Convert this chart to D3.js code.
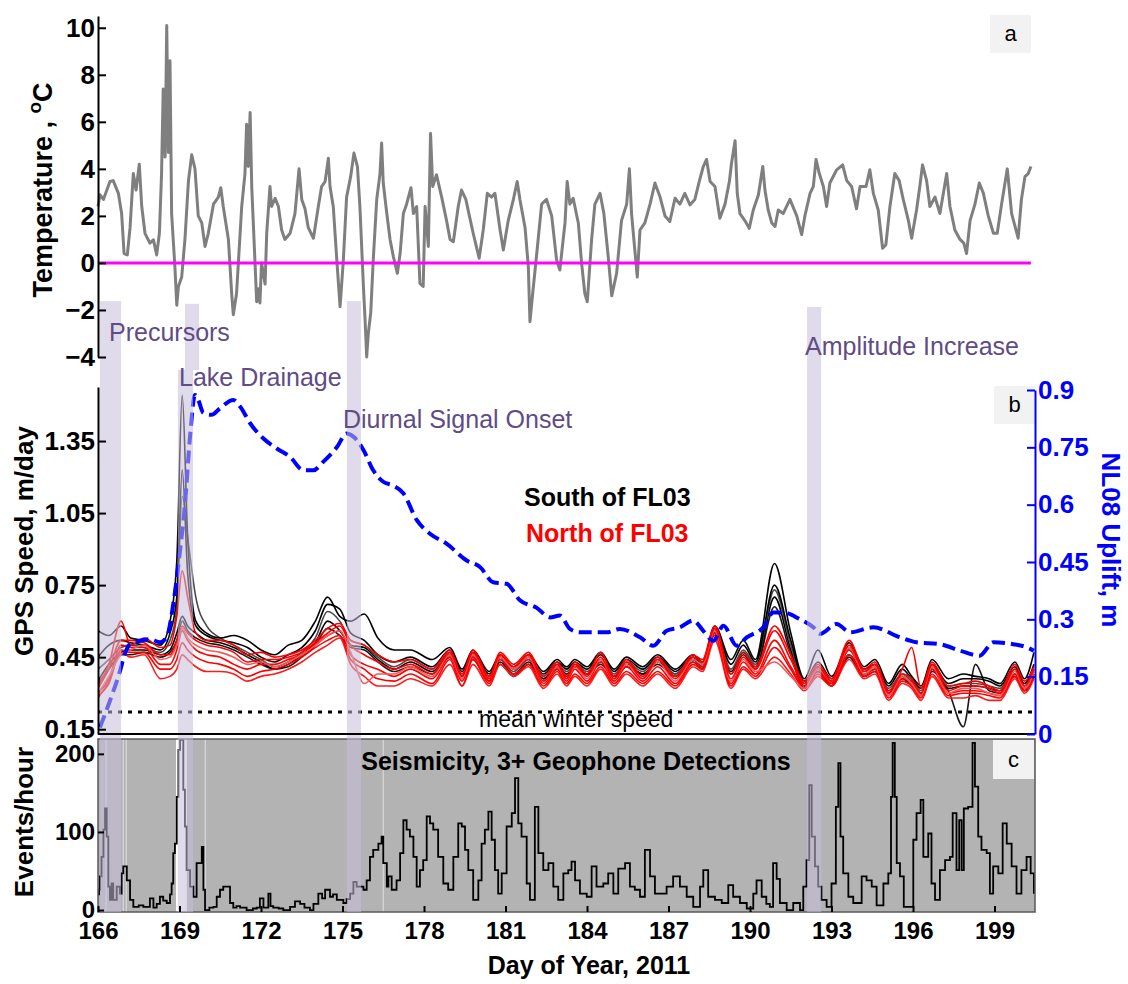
<!DOCTYPE html>
<html>
<head>
<meta charset="utf-8">
<script src="https://cdn.jsdelivr.net/npm/d3@7"></script>
<style>
  body { margin: 0; background: #fff; }
  text { font-family: "Liberation Sans", Arial, Helvetica, sans-serif; }
</style>
</head>
<body>
<svg id="chart" width="1128" height="984"></svg>
<script>
// ---- data ----
const TEMP_DAY = [166.00,166.07,166.20,166.44,166.56,166.75,166.87,166.96,167.08,167.18,167.30,167.40,167.52,167.61,167.73,167.91,168.04,168.16,168.26,168.34,168.40,168.47,168.53,168.59,168.65,168.71,168.83,168.90,168.96,169.08,169.20,169.33,169.45,169.57,169.69,169.82,169.94,170.06,170.25,170.43,170.52,170.61,170.80,170.92,170.98,171.10,171.29,171.41,171.47,171.53,171.60,171.66,171.78,171.84,171.90,171.96,172.02,172.15,172.21,172.33,172.39,172.52,172.64,172.76,172.88,173.07,173.25,173.40,173.50,173.62,173.74,173.93,174.11,174.23,174.36,174.48,174.54,174.66,174.79,174.91,175.03,175.15,175.30,175.42,175.55,175.64,175.77,175.83,175.89,175.95,176.04,176.13,176.26,176.38,176.44,176.50,176.63,176.75,176.87,177.02,177.12,177.24,177.36,177.52,177.61,177.73,177.85,177.97,178.04,178.16,178.24,178.32,178.46,178.65,178.83,178.96,179.08,179.26,179.38,179.54,179.67,179.81,180.03,180.18,180.33,180.49,180.61,180.80,180.92,181.10,181.29,181.43,181.53,181.72,181.84,181.90,182.00,182.15,182.33,182.51,182.70,182.88,183.00,183.19,183.27,183.37,183.49,183.68,183.80,183.92,184.01,184.17,184.29,184.48,184.62,184.78,184.91,185.09,185.27,185.46,185.56,185.64,185.76,185.85,185.95,186.13,186.32,186.50,186.69,186.87,187.05,187.24,187.42,187.60,187.79,187.97,188.13,188.28,188.40,188.53,188.71,188.89,189.08,189.24,189.32,189.45,189.53,189.63,189.81,189.97,190.12,190.31,190.47,190.55,190.67,190.80,190.92,191.04,191.22,191.47,191.72,191.90,192.02,192.21,192.33,192.43,192.55,192.70,192.82,192.94,193.19,193.41,193.56,193.74,193.92,194.05,194.27,194.41,194.54,194.72,194.88,195.00,195.15,195.33,195.49,195.64,195.83,195.95,196.13,196.25,196.35,196.50,196.62,196.81,196.99,197.24,197.36,197.54,197.73,197.87,197.97,198.10,198.28,198.44,198.59,198.77,198.96,199.10,199.26,199.47,199.63,199.87,199.99,200.12,200.24,200.34];
const TEMP_C = [2.4,2.9,2.7,3.46,3.5,2.96,2.1,0.4,0.34,1.5,3.8,3.1,4.2,2.4,1.26,0.84,0.98,0.34,1.26,3.8,7.4,4.5,10.1,4.7,8.6,2.1,-0.16,-1.8,-1.0,-0.6,1.0,3.5,4.6,4.0,2.0,1.7,0.7,1.26,2.5,2.8,3.2,2.4,1.0,-1.3,-2.2,-1.3,2.4,3.8,5.9,4.1,6.4,3.2,0.0,-1.65,-1.1,-1.7,0.0,-0.9,1.26,3.25,2.4,2.75,2.4,1.4,1.0,1.26,2.1,4.0,2.7,2.3,1.5,1.05,2.4,3.25,3.46,4.45,3.25,2.4,0.13,-1.86,0.1,2.8,3.67,4.67,4.1,2.4,-1.0,-2.4,-4.0,-3.0,-2.1,0.1,2.7,3.8,5.1,3.4,2.1,1.0,0.28,-0.44,0.4,2.1,2.5,3.2,2.1,2.4,-0.87,-1.0,2.4,0.7,5.5,3.25,3.75,2.8,1.8,1.0,0.9,2.4,3.1,2.7,2.0,1.26,0.2,1.4,2.96,2.8,2.96,1.4,0.55,1.8,2.7,3.46,2.7,1.5,-0.16,-2.5,-1.3,0.4,2.5,2.7,2.0,0.13,-0.3,1.7,3.46,2.5,2.75,1.7,0.0,-1.3,-1.65,1.0,2.5,2.96,2.1,0.28,-1.4,-0.44,1.8,2.5,4.0,2.1,0.55,-0.6,1.4,1.7,2.5,3.4,2.8,2.0,1.76,2.75,2.5,2.96,2.47,2.7,3.46,4.1,4.4,3.46,3.25,1.9,2.5,3.46,4.25,5.2,2.96,2.1,1.8,1.47,2.25,2.9,4.1,3.1,2.25,1.7,1.55,2.25,2.1,2.7,2.0,1.2,2.0,2.96,3.25,4.4,3.8,3.25,2.4,3.4,3.96,4.17,3.5,3.25,2.3,3.25,3.25,3.96,2.96,2.25,0.62,0.77,2.4,3.8,3.5,2.7,1.8,1.05,2.25,3.25,4.17,3.5,2.4,2.8,2.1,3.8,2.4,1.4,1.0,0.84,0.4,1.8,2.5,3.4,2.96,2.0,1.26,1.26,2.5,4.0,2.1,1.05,2.7,3.67,3.8,4.1];

// NL08 uplift (m), right axis of panel b
const UPLIFT_DAY = [166.07,166.44,166.81,166.99,167.18,167.55,167.91,168.28,168.53,168.77,169.02,169.20,169.39,169.57,169.69,169.88,170.18,170.49,170.98,171.23,171.60,172.09,172.58,173.07,173.56,173.93,174.29,174.79,175.15,175.40,175.77,176.13,176.50,176.87,177.24,177.73,178.22,178.83,179.57,180.06,180.55,181.04,181.53,182.15,182.64,183.00,183.37,183.74,184.72,185.21,185.95,186.44,186.93,187.42,187.91,188.28,188.65,189.02,189.51,189.88,190.49,190.86,191.22,191.84,192.33,192.57,193.19,193.68,194.54,195.52,196.13,196.99,197.73,198.46,198.95,199.69,200.18,200.45];
const UPLIFT_M = [0.017,0.087,0.165,0.21,0.235,0.244,0.248,0.24,0.253,0.34,0.48,0.60,0.78,0.887,0.874,0.84,0.835,0.852,0.874,0.857,0.813,0.773,0.747,0.725,0.69,0.69,0.712,0.75,0.786,0.778,0.743,0.69,0.66,0.65,0.63,0.56,0.524,0.498,0.454,0.437,0.397,0.393,0.35,0.33,0.305,0.31,0.275,0.266,0.266,0.275,0.253,0.231,0.27,0.279,0.297,0.27,0.244,0.283,0.231,0.253,0.279,0.318,0.318,0.30,0.279,0.262,0.288,0.266,0.279,0.253,0.24,0.235,0.218,0.205,0.24,0.235,0.227,0.218];

// GPS speeds (m/day), one array per station, sampled on GPS_DAYS
const GPS_DAYS = [166.0,166.4,166.85,167.2,167.7,168.3,168.65,168.9,169.1,169.3,
  169.6,170.0,170.5,171.0,171.5,172.0,172.5,173.0,173.5,174.0,
  174.45,174.9,175.3,175.8,176.3,176.9,177.5,178.3,178.95,179.4,
  179.8,180.4,180.8,181.3,181.85,182.4,182.9,183.25,183.55,184.0,
  184.5,185.0,185.45,186.05,186.6,187.25,187.9,188.25,188.7,189.3,
  189.75,190.2,190.9,191.5,192.0,192.5,193.0,193.65,194.2,194.6,
  195.1,195.6,195.95,196.3,196.7,197.3,197.85,198.3,198.8,199.2,
  199.75,200.1,200.45];

const SOUTH_1 = [0.56,0.54,0.58,0.53,0.52,0.50,0.60,0.85,1.54,0.95, 0.60,0.55,0.53,0.54,0.52,0.48,0.46,0.50,0.52,0.60, 0.70,0.62,0.60,0.63,0.53,0.48,0.48,0.44,0.49,0.40, 0.48,0.39,0.46,0.41,0.46,0.39,0.44,0.41,0.44,0.41, 0.47,0.40,0.45,0.41,0.46,0.40,0.46,0.43,0.58,0.44, 0.52,0.44,0.84,0.55,0.36,0.48,0.37,0.51,0.41,0.44, 0.34,0.42,0.37,0.33,0.44,0.36,0.38,0.37,0.36,0.34, 0.43,0.36,0.47];
const SOUTH_2 = [0.45,0.50,0.52,0.51,0.50,0.48,0.55,0.70,1.23,0.80, 0.58,0.54,0.52,0.51,0.49,0.45,0.43,0.46,0.49,0.56, 0.67,0.65,0.55,0.52,0.46,0.43,0.45,0.41,0.48,0.39, 0.47,0.38,0.45,0.40,0.45,0.38,0.43,0.40,0.43,0.40, 0.46,0.39,0.44,0.40,0.45,0.39,0.45,0.42,0.57,0.42, 0.50,0.43,0.75,0.52,0.35,0.43,0.36,0.49,0.40,0.42, 0.33,0.40,0.36,0.32,0.42,0.34,0.36,0.36,0.35,0.33, 0.41,0.34,0.42];
const SOUTH_3 = [0.40,0.44,0.49,0.50,0.49,0.47,0.52,0.65,1.12,0.95, 0.70,0.58,0.53,0.50,0.47,0.44,0.41,0.43,0.47,0.53, 0.64,0.60,0.52,0.50,0.45,0.41,0.44,0.40,0.47,0.38, 0.46,0.37,0.44,0.39,0.44,0.37,0.42,0.39,0.42,0.39, 0.44,0.38,0.43,0.39,0.44,0.38,0.44,0.41,0.56,0.40, 0.48,0.42,0.73,0.50,0.34,0.41,0.35,0.48,0.39,0.41, 0.32,0.38,0.35,0.31,0.41,0.33,0.34,0.34,0.33,0.32, 0.40,0.33,0.40];
const SOUTH_4 = [0.35,0.42,0.47,0.48,0.48,0.46,0.48,0.55,0.62,0.58, 0.55,0.52,0.51,0.49,0.46,0.43,0.40,0.42,0.46,0.51, 0.60,0.56,0.50,0.49,0.44,0.40,0.43,0.39,0.46,0.37, 0.45,0.36,0.43,0.38,0.43,0.36,0.41,0.38,0.41,0.38, 0.43,0.37,0.42,0.38,0.43,0.38,0.44,0.41,0.55,0.39, 0.47,0.41,0.70,0.48,0.33,0.40,0.34,0.46,0.38,0.40, 0.31,0.37,0.34,0.30,0.40,0.32,0.33,0.33,0.32,0.31, 0.38,0.32,0.38];
const SOUTH_5 = [0.34,0.40,0.46,0.46,0.47,0.45,0.47,0.52,0.60,0.56, 0.53,0.51,0.50,0.48,0.45,0.42,0.40,0.41,0.45,0.50, 0.57,0.54,0.49,0.48,0.43,0.39,0.41,0.38,0.45,0.36, 0.44,0.35,0.42,0.37,0.42,0.36,0.40,0.37,0.41,0.38, 0.42,0.37,0.41,0.38,0.42,0.37,0.43,0.40,0.55,0.38, 0.46,0.40,0.66,0.46,0.32,0.39,0.33,0.45,0.37,0.39, 0.30,0.36,0.33,0.29,0.39,0.31,0.16,0.42,0.31,0.30, 0.37,0.31,0.37];

const NORTH_1 = [0.33,0.42,0.60,0.50,0.53,0.49,0.50,0.62,0.81,0.70, 0.55,0.52,0.52,0.50,0.46,0.47,0.45,0.46,0.48,0.52, 0.57,0.59,0.52,0.50,0.46,0.43,0.44,0.40,0.48,0.38, 0.48,0.37,0.47,0.42,0.47,0.37,0.43,0.37,0.43,0.38, 0.47,0.37,0.44,0.37,0.45,0.37,0.46,0.44,0.58,0.38, 0.47,0.41,0.58,0.46,0.35,0.42,0.36,0.52,0.40,0.43, 0.31,0.40,0.49,0.32,0.43,0.33,0.34,0.35,0.33,0.31, 0.42,0.35,0.41];
const NORTH_2 = [0.32,0.40,0.52,0.52,0.51,0.46,0.46,0.52,0.58,0.55, 0.52,0.50,0.49,0.47,0.43,0.44,0.44,0.45,0.47,0.51, 0.55,0.58,0.50,0.46,0.43,0.40,0.42,0.38,0.47,0.37, 0.47,0.36,0.46,0.41,0.46,0.35,0.42,0.36,0.42,0.37, 0.45,0.36,0.43,0.36,0.44,0.36,0.45,0.43,0.57,0.36, 0.45,0.40,0.56,0.44,0.34,0.41,0.35,0.50,0.39,0.42, 0.30,0.38,0.36,0.30,0.42,0.31,0.33,0.33,0.32,0.30, 0.40,0.33,0.40];
const NORTH_3 = [0.30,0.36,0.50,0.49,0.49,0.42,0.42,0.48,0.56,0.52, 0.48,0.46,0.45,0.42,0.40,0.42,0.42,0.44,0.46,0.50, 0.54,0.56,0.46,0.42,0.40,0.37,0.40,0.36,0.45,0.35, 0.45,0.35,0.45,0.40,0.44,0.34,0.40,0.35,0.40,0.35, 0.43,0.35,0.41,0.35,0.41,0.34,0.43,0.41,0.55,0.34, 0.43,0.38,0.52,0.41,0.33,0.39,0.34,0.48,0.38,0.40, 0.29,0.36,0.35,0.29,0.40,0.30,0.31,0.31,0.30,0.29, 0.38,0.32,0.38];
const NORTH_4 = [0.29,0.34,0.48,0.47,0.47,0.40,0.40,0.44,0.51,0.48, 0.45,0.43,0.42,0.40,0.37,0.39,0.40,0.42,0.45,0.49, 0.52,0.54,0.44,0.40,0.36,0.35,0.38,0.34,0.44,0.33, 0.44,0.34,0.44,0.38,0.42,0.33,0.39,0.34,0.38,0.34, 0.41,0.34,0.39,0.34,0.39,0.33,0.42,0.40,0.54,0.33, 0.41,0.37,0.49,0.40,0.32,0.38,0.33,0.46,0.37,0.39, 0.28,0.35,0.33,0.28,0.38,0.29,0.30,0.30,0.29,0.28, 0.37,0.31,0.37];
const NORTH_5 = [0.28,0.35,0.47,0.45,0.46,0.36,0.37,0.40,0.46,0.44, 0.41,0.39,0.39,0.38,0.35,0.37,0.38,0.40,0.43,0.47, 0.50,0.53,0.42,0.37,0.33,0.33,0.36,0.33,0.42,0.33, 0.42,0.33,0.42,0.37,0.41,0.32,0.38,0.33,0.37,0.33, 0.40,0.33,0.38,0.33,0.38,0.32,0.41,0.39,0.52,0.32, 0.40,0.36,0.45,0.38,0.31,0.37,0.33,0.44,0.36,0.38, 0.27,0.34,0.32,0.27,0.37,0.28,0.28,0.29,0.27,0.27, 0.36,0.30,0.36];
const NORTH_6 = [0.30,0.37,0.46,0.48,0.50,0.44,0.45,0.50,0.57,0.53, 0.50,0.48,0.47,0.45,0.42,0.43,0.41,0.43,0.46,0.50, 0.54,0.56,0.47,0.34,0.38,0.38,0.41,0.37,0.46,0.36, 0.46,0.36,0.45,0.40,0.45,0.35,0.41,0.36,0.41,0.36, 0.44,0.36,0.42,0.36,0.43,0.35,0.44,0.42,0.56,0.35, 0.44,0.39,0.43,0.37,0.32,0.40,0.35,0.49,0.38,0.41, 0.29,0.37,0.34,0.29,0.41,0.30,0.32,0.32,0.30,0.29, 0.39,0.32,0.39];

const MEAN_WINTER_SPEED = 0.222;

// seismicity, events per hour (3+ geophone detections)
const SEIS_DAY = [166.00,166.04,166.07,166.13,166.20,166.26,166.32,166.38,166.44,166.50,166.56,166.69,166.81,166.87,166.93,167.06,167.18,167.30,167.50,167.67,167.91,168.04,168.16,168.28,168.40,168.53,168.65,168.71,168.77,168.83,168.90,168.96,169.02,169.08,169.14,169.20,169.26,169.39,169.51,169.63,169.75,169.82,169.88,169.94,170.10,170.25,170.37,170.49,170.61,170.74,170.86,170.98,171.10,171.23,171.47,171.70,171.84,171.96,172.09,172.27,172.35,172.45,172.65,172.82,173.07,173.25,173.44,173.60,173.80,173.93,174.11,174.25,174.36,174.54,174.65,174.79,175.03,175.15,175.28,175.40,175.52,175.64,175.77,175.89,176.01,176.13,176.32,176.44,176.50,176.63,176.69,176.81,176.99,177.12,177.24,177.36,177.48,177.61,177.73,177.85,177.97,178.10,178.22,178.34,178.52,178.71,178.89,179.08,179.26,179.39,179.51,179.63,179.81,180.00,180.12,180.24,180.37,180.49,180.61,180.73,180.86,181.04,181.23,181.35,181.47,181.59,181.78,181.90,182.08,182.21,182.39,182.58,182.76,182.94,183.13,183.31,183.43,183.56,183.74,183.99,184.17,184.35,184.60,184.78,184.97,185.15,185.40,185.58,185.76,185.95,186.13,186.32,186.50,186.75,186.93,187.17,187.42,187.67,187.91,188.16,188.28,188.46,188.71,188.96,189.20,189.38,189.63,189.88,190.12,190.24,190.43,190.60,190.73,190.85,190.98,191.10,191.35,191.59,191.84,191.96,192.08,192.18,192.27,192.39,192.51,192.63,192.82,193.00,193.16,193.25,193.33,193.43,193.62,193.80,194.11,194.29,194.48,194.66,194.91,195.09,195.19,195.25,195.33,195.40,195.52,195.66,195.83,196.01,196.13,196.28,196.38,196.56,196.68,196.81,196.99,197.18,197.36,197.46,197.60,197.70,197.79,197.87,198.03,198.19,198.28,198.40,198.52,198.71,198.83,198.95,199.14,199.30,199.45,199.63,199.81,199.99,200.18,200.33,200.45];
const SEIS_RATE = [20,26,43,68,103,130,94,30,13,34,13,30,21,47,56,38,13,4,6,4,15,3,8,17,12,9,20,34,73,85,145,205,218,218,154,107,51,30,17,60,60,81,26,0,3,4,17,26,30,30,9,3,5,3,0,2,3,15,3,21,5,3,2,0,4,11,8,3,0,8,21,15,26,17,20,13,9,14,21,36,30,30,26,38,68,77,85,94,60,30,43,26,38,73,115,103,94,68,30,51,64,120,111,103,68,34,26,68,111,107,77,51,13,38,85,103,126,90,51,21,47,107,124,169,111,94,34,13,132,73,51,60,30,13,47,51,62,38,21,17,56,30,34,47,21,53,60,30,26,17,77,43,21,21,30,43,30,17,4,30,51,17,13,9,32,17,9,2,21,38,17,8,4,60,40,9,0,9,0,30,64,160,94,56,30,13,4,34,132,188,94,47,17,9,43,38,30,6,34,47,145,214,145,60,43,4,4,90,124,141,68,98,34,13,51,64,68,124,51,115,51,130,132,214,158,94,77,73,21,56,47,111,85,56,21,51,68,47,21];

// short gaps in the seismic record (no background shading)
const SEIS_GAPS = [[166.28, 166.31], [166.91, 166.93], [167.02, 167.04], [168.87, 169.27], [169.93, 169.95], [176.48, 176.50]];

// event windows (day of year) and the temperature level where each shaded bar starts
const EVENT_START = [166.07, 169.20, 175.16, 192.10];
const EVENT_END   = [166.85, 169.72, 175.68, 192.62];
const EVENT_TOP_C = [-1.62, -1.74, -1.62, -1.87];
const EVENT_LABELS = ['Precursors', 'Lake Drainage', 'Diurnal Signal Onset', 'Amplitude Increase'];

const X_TICKS = d3.range(166, 200, 3);

// ---- layout ----
const svg = d3.select('#chart');
const left = 98, right = 1035;

const x = d3.scaleLinear().domain([166, 200.49]).range([left, right]);
const yT = d3.scaleLinear().domain([-4, 10.5]).range([357, 16]);
const yS = d3.scaleLinear().domain([0.13, 1.575]).range([734, 387]);
const yU = d3.scaleLinear().domain([0, 0.9]).range([734, 390]);
const yE = d3.scaleLinear().domain([-2.5, 219]).range([912, 739]);

const defs = svg.append('defs');
defs.append('clipPath').attr('id', 'clipB')
  .append('rect').attr('x', left).attr('y', 380).attr('width', right - left).attr('height', 354);
defs.append('clipPath').attr('id', 'clipC')
  .append('rect').attr('x', left).attr('y', 739).attr('width', right - left).attr('height', 173);

const purple = '#5f4c86';
const bold = (sel, size) => sel.attr('font-weight', 'bold').attr('font-size', size);

// panel c background
svg.append('rect')
  .attr('x', left).attr('y', 739).attr('width', right - left).attr('height', 173)
  .attr('fill', '#b3b3b3');
svg.append('g').selectAll('rect').data(SEIS_GAPS).join('rect')
  .attr('x', d => x(d[0]))
  .attr('width', d => Math.max(1, x(d[1]) - x(d[0])))
  .attr('y', 739).attr('height', 173)
  .attr('fill', '#fff')
  .attr('opacity', d => (x(d[1]) - x(d[0]) > 3 ? 1 : 0.6));

// panel a: temperature
svg.append('path')
  .datum(TEMP_DAY.map((d, i) => [d, TEMP_C[i]]))
  .attr('fill', 'none').attr('stroke', '#7f7f7f').attr('stroke-width', 3)
  .attr('stroke-linejoin', 'round')
  .attr('d', d3.line().x(d => x(d[0])).y(d => yT(d[1])));

svg.append('line')
  .attr('x1', x(166)).attr('x2', x(TEMP_DAY[TEMP_DAY.length - 1]))
  .attr('y1', yT(0)).attr('y2', yT(0))
  .attr('stroke', '#ff00ff').attr('stroke-width', 3);

// panel b: GPS speeds
const gB = svg.append('g').attr('clip-path', 'url(#clipB)');
const speedLine = d3.line().curve(d3.curveMonotoneX)
  .x((d, i) => x(GPS_DAYS[i])).y(d => yS(d));

const south = [
  { v: SOUTH_5, c: '#1a1a1a' }, { v: SOUTH_4, c: '#000' }, { v: SOUTH_3, c: '#4a4a4a' },
  { v: SOUTH_2, c: '#000' }, { v: SOUTH_1, c: '#000' }
];
const north = [
  { v: NORTH_5, c: '#ff1a1a' }, { v: NORTH_4, c: '#ff0000' }, { v: NORTH_3, c: '#ff0000' },
  { v: NORTH_6, c: '#f05a5a' }, { v: NORTH_2, c: '#ff0000' }, { v: NORTH_1, c: '#ff0000' }
];
gB.selectAll('path.s').data(south).join('path').attr('class', 's')
  .attr('fill', 'none').attr('stroke', d => d.c).attr('stroke-width', 1.6)
  .attr('d', d => speedLine(d.v));
gB.selectAll('path.n').data(north).join('path').attr('class', 'n')
  .attr('fill', 'none').attr('stroke', d => d.c).attr('stroke-width', 1.6)
  .attr('d', d => speedLine(d.v));

gB.append('path')
  .datum(UPLIFT_DAY.map((d, i) => [d, UPLIFT_M[i]]))
  .attr('fill', 'none').attr('stroke', '#0000ff').attr('stroke-width', 4)
  .attr('stroke-dasharray', '13,6')
  .attr('d', d3.line().curve(d3.curveMonotoneX).x(d => x(d[0])).y(d => yU(d[1])));

// mean winter speed
svg.append('line')
  .attr('x1', left).attr('x2', right)
  .attr('y1', yS(MEAN_WINTER_SPEED)).attr('y2', yS(MEAN_WINTER_SPEED))
  .attr('stroke', '#000').attr('stroke-width', 3).attr('stroke-dasharray', '4,6');

// panel c: seismicity (hourly counts, drawn as steps)
svg.append('g').attr('clip-path', 'url(#clipC)').append('path')
  .datum(SEIS_DAY.map((d, i) => [d, SEIS_RATE[i]]))
  .attr('fill', 'none').attr('stroke', '#000').attr('stroke-width', 1.8)
  .attr('d', d3.line().curve(d3.curveStepAfter).x(d => x(d[0])).y(d => yE(d[1])));

svg.append('rect')
  .attr('x', left).attr('y', 739).attr('width', right - left).attr('height', 173)
  .attr('fill', 'none').attr('stroke', '#5a5a5a').attr('stroke-width', 1.5);

// shaded event windows (drawn over the data)
const bandFill = 'rgb(199,190,217)';
EVENT_START.forEach((s, i) => {
  const top = yT(EVENT_TOP_C[i]);
  if (i === 1) {
    // lake drainage bar is offset between the upper and lower panels
    svg.append('rect').attr('x', x(s)).attr('width', x(EVENT_END[i]) - x(s))
      .attr('y', top).attr('height', 370 - top)
      .attr('fill', bandFill).attr('opacity', 0.55);
    svg.append('rect').attr('x', x(168.94)).attr('width', x(169.50) - x(168.94))
      .attr('y', 370).attr('height', 912 - 370)
      .attr('fill', bandFill).attr('opacity', 0.55);
  } else {
    svg.append('rect').attr('x', x(s)).attr('width', x(EVENT_END[i]) - x(s))
      .attr('y', top).attr('height', 912 - top)
      .attr('fill', bandFill).attr('opacity', 0.55);
  }
});

// event annotations
const annot = [
  { t: EVENT_LABELS[0], x: 109, y: 341 },
  { t: EVENT_LABELS[1], x: 179, y: 386 },
  { t: EVENT_LABELS[2], x: 343, y: 428 },
  { t: EVENT_LABELS[3], x: 805, y: 355 }
];
svg.append('g').selectAll('text').data(annot).join('text')
  .attr('x', d => d.x).attr('y', d => d.y)
  .attr('font-size', 25).attr('fill', purple)
  .text(d => d.t);

// legend text
bold(svg.append('text').attr('x', 524).attr('y', 506).text('South of FL03'), 25);
bold(svg.append('text').attr('x', 526).attr('y', 542).attr('fill', '#ff0000').text('North of FL03'), 25);
svg.append('text').attr('x', 479).attr('y', 727).attr('font-size', 23).text('mean winter speed');
bold(svg.append('text').attr('x', 576).attr('y', 770).attr('text-anchor', 'middle')
  .text('Seismicity, 3+ Geophone Detections'), 25);

// panel letters
[['a', 990, 15, 41, 38], ['b', 994, 386, 41, 38], ['c', 993, 740, 41, 39]].forEach(([t, bx, by, bw, bh]) => {
  svg.append('rect').attr('x', bx).attr('y', by).attr('width', bw).attr('height', bh).attr('fill', '#f2f2f2');
  svg.append('text').attr('x', bx + bw / 2).attr('y', by + bh / 2 + 7)
    .attr('text-anchor', 'middle').attr('font-size', 22).text(t);
});

// panel b bottom rule
svg.append('line').attr('x1', left).attr('x2', right).attr('y1', 734).attr('y2', 734)
  .attr('stroke', '#000').attr('stroke-width', 2);

// axes
const minus = d => (d < 0 ? '\u2212' + Math.abs(d) : String(d));
const styleAxis = (g, color, size) => {
  g.selectAll('path.domain').attr('stroke', color).attr('stroke-width', 2);
  g.selectAll('.tick line').attr('stroke', color).attr('stroke-width', 2);
  g.selectAll('.tick text').attr('fill', color).attr('font-size', size).attr('font-weight', 'bold')
    .attr('font-family', '"Liberation Sans", Arial, Helvetica, sans-serif');
};

const axT = svg.append('g').attr('transform', `translate(${left},0)`)
  .call(d3.axisLeft(yT).tickValues([-4, -2, 0, 2, 4, 6, 8, 10]).tickFormat(minus)
    .tickSizeInner(-8).tickSizeOuter(0).tickPadding(3));
styleAxis(axT, '#000', 26);

const axS = svg.append('g').attr('transform', `translate(${left},0)`)
  .call(d3.axisLeft(yS).tickValues([0.15, 0.45, 0.75, 1.05, 1.35]).tickFormat(d3.format('.2f'))
    .tickSizeInner(-8).tickSizeOuter(0).tickPadding(3));
styleAxis(axS, '#000', 26);

const axU = svg.append('g').attr('transform', `translate(${right},0)`)
  .call(d3.axisRight(yU).tickValues([0, 0.15, 0.3, 0.45, 0.6, 0.75, 0.9]).tickFormat(d => String(d))
    .tickSizeInner(-8).tickSizeOuter(0).tickPadding(3));
styleAxis(axU, '#0000ff', 26);

const axE = svg.append('g').attr('transform', `translate(${left},0)`)
  .call(d3.axisLeft(yE).tickValues([0, 100, 200])
    .tickSizeInner(-6).tickSizeOuter(0).tickPadding(3));
styleAxis(axE, '#000', 24);
axE.select('path.domain').remove();

const axX = svg.append('g').attr('transform', 'translate(0,912)')
  .call(d3.axisBottom(x).tickValues(X_TICKS).tickFormat(d3.format('d'))
    .tickSizeInner(-6).tickSizeOuter(0).tickPadding(10));
styleAxis(axX, '#000', 24);
axX.select('path.domain').remove();

// axis titles
const tT = svg.append('text').attr('transform', 'translate(52,190) rotate(-90)')
  .attr('text-anchor', 'middle');
bold(tT, 27);
tT.append('tspan').text('Temperature , ');
tT.append('tspan').attr('font-size', 19).attr('dy', -11).text('o');
tT.append('tspan').attr('dy', 11).text('C');

bold(svg.append('text').attr('transform', 'translate(33,541) rotate(-90)')
  .attr('text-anchor', 'middle').text('GPS Speed, m/day'), 26);
bold(svg.append('text').attr('transform', 'translate(33,822) rotate(-90)')
  .attr('text-anchor', 'middle').text('Events/hour'), 26);
bold(svg.append('text').attr('transform', 'translate(1102,540) rotate(90)')
  .attr('text-anchor', 'middle').attr('fill', '#0000ff').text('NL08 Uplift, m'), 26);
bold(svg.append('text').attr('x', 589).attr('y', 974)
  .attr('text-anchor', 'middle').text('Day of Year, 2011'), 25);
</script>
</body>
</html>
